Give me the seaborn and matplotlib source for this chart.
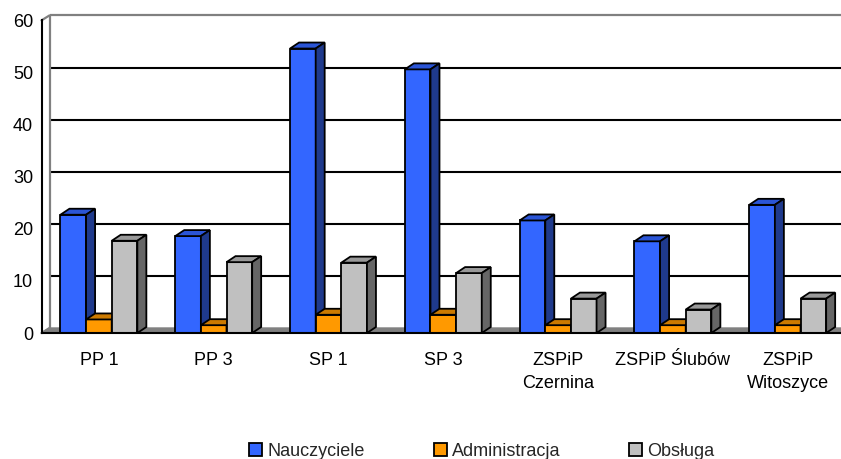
import matplotlib
matplotlib.use("Agg")
import matplotlib.pyplot as plt
import seaborn as sns
import pandas as pd
from matplotlib.patches import Polygon, Patch

# ---------------- data ----------------
categories = ["PP 1", "PP 3", "SP 1", "SP 3", "ZSPiP\nCzernina", "ZSPiP Ślubów", "ZSPiP\nWitoszyce"]
series = ["Nauczyciele", "Administracja", "Obsługa"]
nauczyciele = [22.7, 18.6, 54.6, 50.6, 21.6, 17.6, 24.6]
administracja = [2.6, 1.5, 3.5, 3.5, 1.5, 1.5, 1.5]
obsluga = [17.7, 13.6, 13.5, 11.5, 6.6, 4.5, 6.6]
y_ticks = [0, 10, 20, 30, 40, 50, 60]

front_colors = ["#3366FF", "#FF9900", "#C0C0C0"]
top_colors = ["#2B55D6", "#CC7A00", "#999999"]
side_colors = ["#1F3A8C", "#8C5500", "#666666"]

sns.set_style("white")
plt.rcParams['font.family'] = ['Liberation Sans', 'DejaVu Sans']

df = pd.DataFrame({
    "Szkoła": categories * 3,
    "Seria": [s for s in series for _ in categories],
    "Liczba": nauczyciele + administracja + obsluga,
})

W, H = 841, 459
fig = plt.figure(figsize=(W / 100, H / 100), dpi=100)
ax_left, ax_bottom, ax_w, ax_h = 41.5, 126, 803.6, 312.6
ax = fig.add_axes([ax_left / W, ax_bottom / H, ax_w / W, ax_h / H])

sns.barplot(data=df, x="Szkoła", y="Liczba", hue="Seria", order=categories,
            hue_order=series, palette=front_colors, width=0.67, saturation=1,
            edgecolor="black", linewidth=1.3, legend=False, ax=ax)

ax.set_xlim(-0.5, len(categories) - 0.5)
ax.set_ylim(0, 60)
ax.set_autoscale_on(False)

px_x = ax_w / len(categories)   # pixels per x data unit
px_y = ax_h / 60.0              # pixels per y data unit

# depth offsets
wdx, wdy = 8 / px_x, 5 / px_y     # walls
bdx, bdy = 9 / px_x, 6 / px_y     # bars

# ---- walls / floor ----
xl, xr = -0.5, len(categories) - 0.5 + 0.2
floor = Polygon([(xl, 0), (xr, 0), (xr + wdx, wdy), (xl + wdx, wdy)], closed=True,
                facecolor="#808080", edgecolor="#808080", lw=1.0, zorder=0.4, clip_on=False)
ax.add_patch(floor)
ax.hlines([t + wdy for t in y_ticks[1:-1]], xl + wdx, xr + 1, colors="black", lw=1.5,
          zorder=0.5, clip_on=False)
ax.hlines([60 + wdy], xl + wdx, xr + 1, colors="#808080", lw=1.6, zorder=0.5, clip_on=False)
ax.vlines([xl + wdx], wdy, 60 + wdy, colors="#808080", lw=1.6, zorder=0.5, clip_on=False)
ax.plot([xl, xl + wdx], [60, 60 + wdy], color="#808080", lw=1.6, zorder=0.5, clip_on=False)
ax.plot([xl, xl + wdx], [0, wdy], color="#808080", lw=1.6, zorder=0.5, clip_on=False)

# ---- pseudo-3D bars ----
n = len(categories)
for i, p in enumerate(ax.patches[:3 * n]):
    k = i // n
    z = 2 + k
    p.set_zorder(z)
    x0 = p.get_x()
    x1 = x0 + p.get_width()
    h = p.get_height()
    top = Polygon([(x0, h), (x1, h), (x1 + bdx, h + bdy), (x0 + bdx, h + bdy)], closed=True,
                  facecolor=top_colors[k], edgecolor="black", lw=1.3, zorder=z + 0.1,
                  joinstyle="miter")
    side = Polygon([(x1, 0), (x1 + bdx, bdy), (x1 + bdx, h + bdy), (x1, h)], closed=True,
                   facecolor=side_colors[k], edgecolor="black", lw=1.3, zorder=z + 0.1,
                   joinstyle="miter")
    ax.add_patch(top)
    ax.add_patch(side)

# ---- axes styling ----
for s in ["top", "right"]:
    ax.spines[s].set_visible(False)
for s in ["left", "bottom"]:
    ax.spines[s].set_color("black")
    ax.spines[s].set_linewidth(1.5)
    ax.spines[s].set_zorder(6)

ax.set_yticks(y_ticks)
ax.set_yticklabels([str(t) for t in y_ticks])
ax.tick_params(axis="y", length=3, width=1.4, direction="out", pad=3, labelsize=13,
               colors="black")
ax.set_xticks(range(n))
ax.set_xticklabels(categories)
ax.set_xticks([i - 0.5 for i in range(n + 1)], minor=True)
ax.tick_params(axis="x", which="major", length=0, pad=14, labelsize=13, colors="black")
ax.tick_params(axis="x", which="minor", length=4, width=1.4, direction="out", colors="black")
for lbl in ax.get_xticklabels():
    lbl.set_linespacing(1.4)
ax.set_xlabel("")
ax.set_ylabel("")
ax.grid(False)

# ---- legend ----
handles = [Patch(facecolor=c, edgecolor="black", linewidth=1.3) for c in front_colors]
fig.legend(handles, series, loc="center", bbox_to_anchor=(0.573, 0.016), ncol=3,
           frameon=False, fontsize=13, handlelength=0.72, handleheight=0.72,
           handletextpad=0.3, columnspacing=3.8, borderpad=0, borderaxespad=0)

fig.savefig("out.png", dpi=100)
